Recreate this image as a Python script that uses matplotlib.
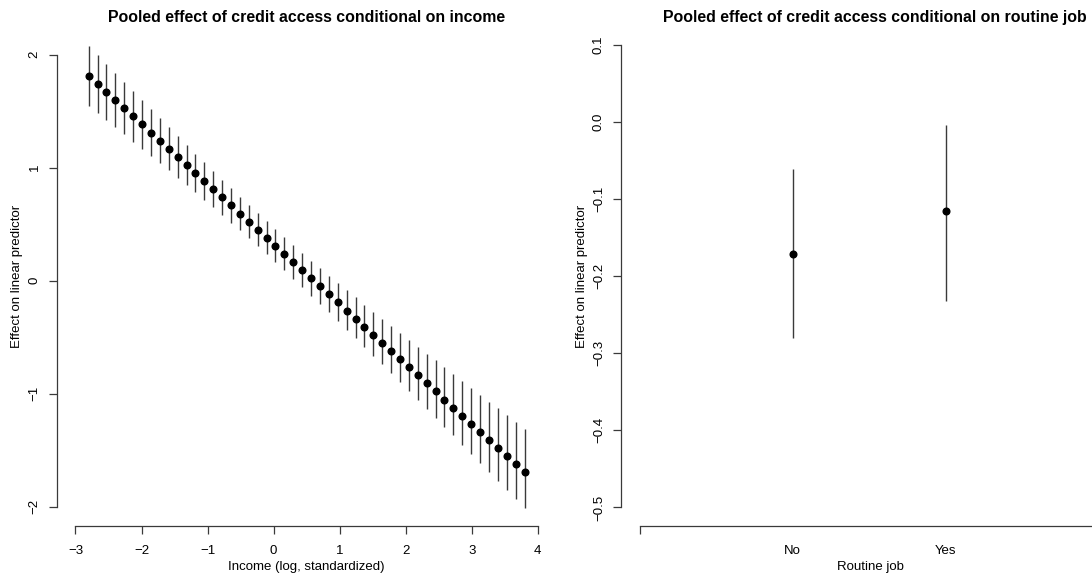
import matplotlib
matplotlib.use('Agg')
import matplotlib.pyplot as plt

# Data panel kiri: efek akses kredit menurut pendapatan (log, standar)
income = [-2.800, -2.665, -2.531, -2.396, -2.261, -2.127, -1.992, -1.857, -1.722, -1.588,
          -1.453, -1.318, -1.184, -1.049, -0.914, -0.780, -0.645, -0.510, -0.376, -0.241,
          -0.106, 0.029, 0.163, 0.298, 0.433, 0.567, 0.702, 0.837, 0.971, 1.106,
          1.241, 1.376, 1.510, 1.645, 1.780, 1.914, 2.049, 2.184, 2.318, 2.453,
          2.588, 2.722, 2.857, 2.992, 3.127, 3.261, 3.396, 3.531, 3.665, 3.800]
effect_income = [1.811, 1.739, 1.668, 1.596, 1.525, 1.453, 1.382, 1.310, 1.238, 1.167,
                 1.095, 1.024, 0.952, 0.881, 0.809, 0.737, 0.666, 0.594, 0.523, 0.451,
                 0.380, 0.308, 0.236, 0.165, 0.093, 0.022, -0.050, -0.121, -0.193, -0.265,
                 -0.336, -0.408, -0.479, -0.551, -0.622, -0.694, -0.766, -0.837, -0.909, -0.980,
                 -1.052, -1.123, -1.195, -1.267, -1.338, -1.410, -1.481, -1.553, -1.624, -1.696]
lower_income = [1.545, 1.482, 1.420, 1.357, 1.295, 1.231, 1.169, 1.105, 1.040, 0.977,
                0.912, 0.847, 0.781, 0.716, 0.649, 0.581, 0.514, 0.445, 0.376, 0.305,
                0.235, 0.163, 0.090, 0.017, -0.058, -0.132, -0.207, -0.281, -0.358, -0.433,
                -0.510, -0.587, -0.664, -0.741, -0.819, -0.897, -0.977, -1.054, -1.134, -1.212,
                -1.292, -1.370, -1.451, -1.530, -1.610, -1.690, -1.769, -1.849, -1.929, -2.009]
upper_income = [2.077, 1.996, 1.916, 1.835, 1.755, 1.675, 1.595, 1.515, 1.436, 1.357,
                1.278, 1.201, 1.123, 1.046, 0.969, 0.893, 0.818, 0.743, 0.670, 0.597,
                0.525, 0.453, 0.382, 0.313, 0.244, 0.176, 0.110, 0.045, -0.020, -0.085,
                -0.148, -0.211, -0.274, -0.337, -0.399, -0.461, -0.523, -0.584, -0.646, -0.706,
                -0.768, -0.828, -0.889, -0.950, -1.010, -1.070, -1.131, -1.191, -1.251, -1.311]

# Data panel kanan: efek menurut pekerjaan rutin
routine_labels = ['No', 'Yes']
routine_pos = [1, 2]
effect_routine = [-0.171, -0.115]
lower_routine = [-0.280, -0.2325]
upper_routine = [-0.061, -0.0035]

plt.rcParams['font.family'] = ['Liberation Sans', 'DejaVu Sans']
plt.rcParams['font.size'] = 9.5
W, H = 1092, 574
fig = plt.figure(figsize=(W / 100, H / 100), dpi=100)

line_col = '#3a3a3a'
top_px, bot_px = 26.4, 526


def buat_axes(left_px, right_px):
    ax = fig.add_axes([left_px / W, (H - bot_px) / H,
                       (right_px - left_px) / W, (bot_px - top_px) / H])
    for s in ['top', 'right']:
        ax.spines[s].set_visible(False)
    for s in ['left', 'bottom']:
        ax.spines[s].set_color(line_col)
        ax.spines[s].set_linewidth(0.9)
    ax.tick_params(which='both', length=5.8, width=0.9, color=line_col)
    ax.tick_params(axis='x', pad=8.0)
    ax.tick_params(axis='y', pad=6.0, labelrotation=90)
    return ax


# Panel kiri
ax1 = buat_axes(57, 556.2)
ax1.vlines(income, lower_income, upper_income, color=line_col, linewidth=1.0)
ax1.plot(income, effect_income, 'o', color='black', markersize=4.8)
ax1.set_xlim(-3.28, 4.28)
ax1.set_ylim(-2.171, 2.250)
ax1.set_xticks([-3, -2, -1, 0, 1, 2, 3, 4])
ax1.set_yticks([-2, -1, 0, 1, 2])
ax1.spines['bottom'].set_bounds(-3, 4)
ax1.spines['left'].set_bounds(-2, 2)
for lab in ax1.get_yticklabels():
    lab.set_va('center')
ax1.set_title('Pooled effect of credit access conditional on income',
              fontsize=11.4, fontweight='bold', pad=3.5)

# Panel kanan
ax2 = buat_axes(621.3, 1117)
ax2.vlines(routine_pos, lower_routine, upper_routine, color=line_col, linewidth=1.0)
ax2.plot(routine_pos, effect_routine, 'o', color='black', markersize=4.8)
ax2.set_xlim(-0.12, 3.12)
ax2.set_ylim(-0.524, 0.124)
ax2.set_xticks(routine_pos)
ax2.set_xticklabels(routine_labels)
ax2.set_xticks([0, 3], minor=True)
ax2.tick_params(axis='x', which='major', length=0, pad=13.8)
ax2.set_yticks([-0.5, -0.4, -0.3, -0.2, -0.1, 0.0, 0.1])
ax2.set_yticklabels(['−0.5', '−0.4', '−0.3', '−0.2', '−0.1', '0.0', '0.1'])
ax2.spines['bottom'].set_bounds(0, 3)
ax2.spines['left'].set_bounds(-0.5, 0.1)
for lab in ax2.get_yticklabels():
    lab.set_va('center')
ax2.set_title('Pooled effect of credit access conditional on routine job',
              fontsize=11.4, fontweight='bold', pad=3.5, x=0.512)

# Label sumbu
fig.text(306.6 / W, 1 - 566.7 / H, 'Income (log, standardized)', ha='center', va='center')
fig.text(870 / W, 1 - 566.7 / H, 'Routine job', ha='center', va='center')
fig.text(17.4 / W, 1 - 276.2 / H, 'Effect on linear predictor', rotation=90,
         ha='center', va='center')
fig.text(581.7 / W, 1 - 276.2 / H, 'Effect on linear predictor', rotation=90,
         ha='center', va='center')

plt.savefig('out.png', dpi=100)
